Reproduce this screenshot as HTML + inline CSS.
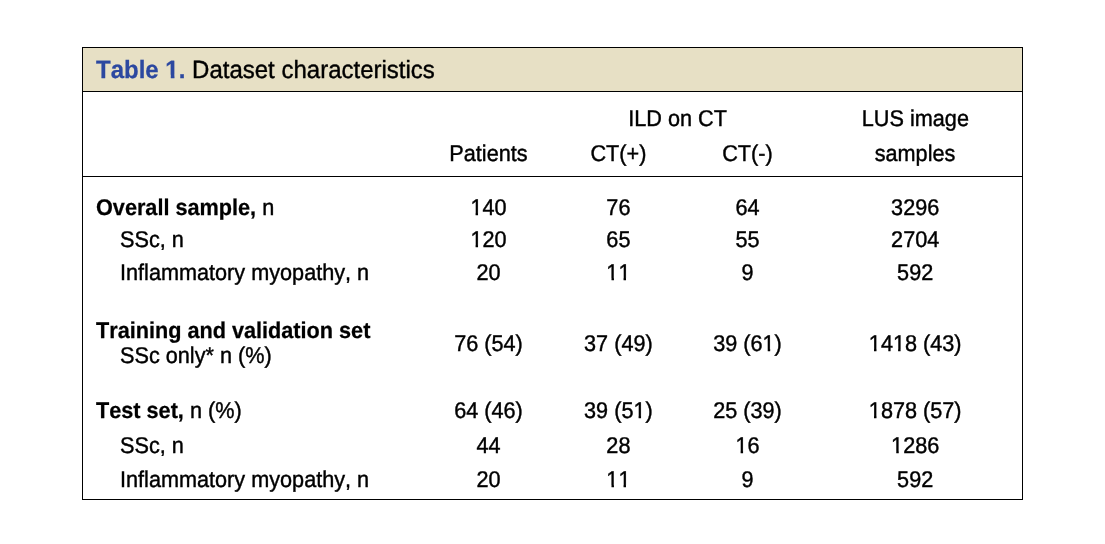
<!DOCTYPE html>
<html><head><meta charset="utf-8"><style>
html,body{margin:0;padding:0;background:#fff;}
body{width:1105px;height:544px;position:relative;overflow:hidden;font-family:"Liberation Sans",sans-serif;color:#000;text-rendering:geometricPrecision;font-kerning:none;}
.box{position:absolute;left:82px;top:47px;width:939px;height:451px;border:1px solid #000;}
.hdr{position:absolute;left:83px;top:48px;width:939px;height:43px;background:#e7e0c5;}
.ln{position:absolute;left:82px;width:941px;height:1px;background:#000;}
.wrap{position:absolute;left:0;top:0;width:1105px;height:544px;will-change:transform;}
.wrap div{-webkit-text-stroke:0.4px currentColor;}
.wrap b{-webkit-text-stroke:0.25px currentColor;}
.t{position:absolute;font-size:21.67px;line-height:30px;white-space:pre;transform:scaleY(1.05);transform-origin:0 22.51px;}
.c{width:300px;text-align:center;}
.title{position:absolute;left:96px;top:55.68px;font-size:24.0px;line-height:30px;white-space:pre;transform:scaleY(1.04);transform-origin:0 23.32px;}
.title b{color:#2c48a0;}
i.o{font-style:normal;display:inline-block;clip-path:polygon(-3px -3px, calc(100% + 3px) -3px, calc(100% + 3px) 20.03px, calc(0.3398em + 0.25px) 20.03px, calc(0.3398em + 0.25px) calc(100% + 3px), calc(0.2515em - 0.25px) calc(100% + 3px), calc(0.2515em - 0.25px) 20.03px, -3px 20.03px);}
b i.o{clip-path:polygon(-3px -3px, calc(100% + 3px) -3px, calc(100% + 3px) 18.93px, calc(0.3706em + 0.175px) 18.93px, calc(0.3706em + 0.175px) calc(100% + 3px), calc(0.2334em - 0.175px) calc(100% + 3px), calc(0.2334em - 0.175px) 18.93px, -3px 18.93px);}
</style></head><body>
<div class="hdr"></div>
<div class="box"></div>
<div class="ln" style="top:91px"></div>
<div class="ln" style="top:176px"></div>
<div class="wrap">
<div class="title"><b>Table <i class="o">1</i>.</b> Dataset characteristics</div>
<div class="t c" style="top:104.39px;left:527.60px">ILD on CT</div>
<div class="t c" style="top:104.39px;left:765.40px">LUS image</div>
<div class="t c" style="top:139.29px;left:338.50px">Patients</div>
<div class="t c" style="top:139.29px;left:468.40px">CT(+)</div>
<div class="t c" style="top:139.29px;left:597.50px">CT(-)</div>
<div class="t c" style="top:139.29px;left:765.00px">samples</div>
<div class="t" style="top:193.29px;left:96.00px"><b>Overall sample,</b> n</div>
<div class="t c" style="top:193.29px;left:338.50px"><i class="o">1</i>40</div>
<div class="t c" style="top:193.29px;left:468.40px">76</div>
<div class="t c" style="top:193.29px;left:597.50px">64</div>
<div class="t c" style="top:193.29px;left:765.20px">3296</div>
<div class="t" style="top:225.09px;left:120.00px">SSc, n</div>
<div class="t c" style="top:225.09px;left:338.50px"><i class="o">1</i>20</div>
<div class="t c" style="top:225.09px;left:468.40px">65</div>
<div class="t c" style="top:225.09px;left:597.50px">55</div>
<div class="t c" style="top:225.09px;left:765.20px">2704</div>
<div class="t" style="top:258.49px;left:120.00px">Inflammatory myopathy, n</div>
<div class="t c" style="top:258.49px;left:338.50px">20</div>
<div class="t c" style="top:258.49px;left:468.40px"><i class="o">1</i><i class="o">1</i></div>
<div class="t c" style="top:258.49px;left:597.50px">9</div>
<div class="t c" style="top:258.49px;left:765.20px">592</div>
<div class="t" style="top:395.89px;left:96.00px"><b>Test set,</b> n (%)</div>
<div class="t c" style="top:395.89px;left:338.50px">64 (46)</div>
<div class="t c" style="top:395.89px;left:468.40px">39 (5<i class="o">1</i>)</div>
<div class="t c" style="top:395.89px;left:597.50px">25 (39)</div>
<div class="t c" style="top:395.89px;left:765.20px"><i class="o">1</i>878 (57)</div>
<div class="t" style="top:430.99px;left:120.00px">SSc, n</div>
<div class="t c" style="top:430.99px;left:338.50px">44</div>
<div class="t c" style="top:430.99px;left:468.40px">28</div>
<div class="t c" style="top:430.99px;left:597.50px"><i class="o">1</i>6</div>
<div class="t c" style="top:430.99px;left:765.20px"><i class="o">1</i>286</div>
<div class="t" style="top:464.99px;left:120.00px">Inflammatory myopathy, n</div>
<div class="t c" style="top:464.99px;left:338.50px">20</div>
<div class="t c" style="top:464.99px;left:468.40px"><i class="o">1</i><i class="o">1</i></div>
<div class="t c" style="top:464.99px;left:597.50px">9</div>
<div class="t c" style="top:464.99px;left:765.20px">592</div>
<div class="t" style="top:316.49px;left:96.00px"><b>Training and validation set</b></div>
<div class="t" style="top:341.09px;left:120.00px">SSc only* n (%)</div>
<div class="t c" style="top:329.39px;left:338.50px">76 (54)</div>
<div class="t c" style="top:329.39px;left:468.40px">37 (49)</div>
<div class="t c" style="top:329.39px;left:597.50px">39 (6<i class="o">1</i>)</div>
<div class="t c" style="top:329.39px;left:765.20px"><i class="o">1</i>4<i class="o">1</i>8 (43)</div>
</div>
</body></html>
